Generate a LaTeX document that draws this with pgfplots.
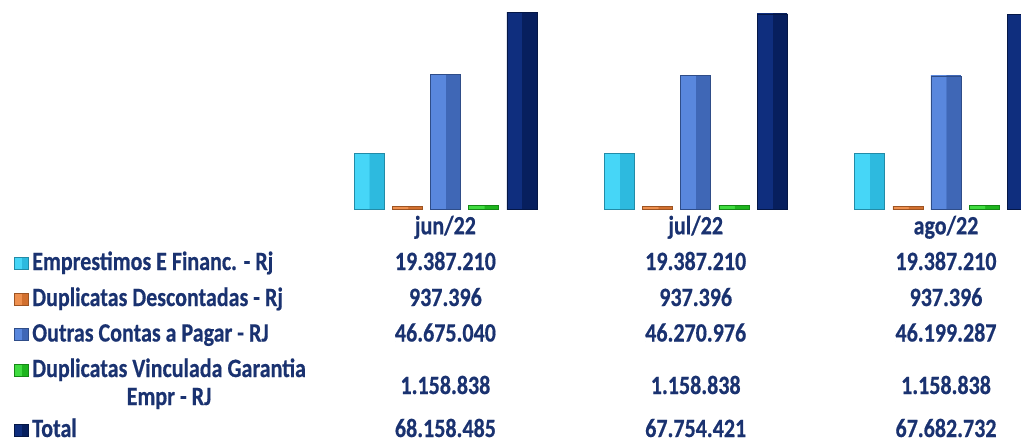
\documentclass[border=0pt]{standalone}
\usepackage{pgfplots}
\pgfplotsset{compat=1.18}
\usepackage{pgfplotstable}
\usepackage{graphicx}
\usepackage{fontspec}
\setmainfont{Carlito}[BoldFeatures={FakeBold=0.6}]

\definecolor{txt}{HTML}{1A3270}
\definecolor{cyanL}{HTML}{46D6F7}
\definecolor{cyanD}{HTML}{2DBADF}
\definecolor{orgL}{HTML}{EE904F}
\definecolor{orgD}{HTML}{D2702F}
\definecolor{bluL}{HTML}{5987DD}
\definecolor{bluD}{HTML}{3F67B6}
\definecolor{grnL}{HTML}{40DC40}
\definecolor{grnD}{HTML}{1EB51E}
\definecolor{navL}{HTML}{0F2E7E}
\definecolor{navD}{HTML}{071F5E}

% left half light, right half dark (bevel look)
\pgfdeclarehorizontalshading{cyanbev}{100bp}{color(0bp)=(cyanL); color(50bp)=(cyanL); color(50bp)=(cyanD); color(100bp)=(cyanD)}
\pgfdeclarehorizontalshading{orgbev}{100bp}{color(0bp)=(orgL); color(50bp)=(orgL); color(50bp)=(orgD); color(100bp)=(orgD)}
\pgfdeclarehorizontalshading{blubev}{100bp}{color(0bp)=(bluL); color(50bp)=(bluL); color(50bp)=(bluD); color(100bp)=(bluD)}
\pgfdeclarehorizontalshading{grnbev}{100bp}{color(0bp)=(grnL); color(50bp)=(grnL); color(50bp)=(grnD); color(100bp)=(grnD)}
\pgfdeclarehorizontalshading{navbev}{100bp}{color(0bp)=(navL); color(50bp)=(navL); color(50bp)=(navD); color(100bp)=(navD)}

\pgfplotstableread{
x emp dup out vin tot
0 19387210 937396 46675040 1158838 68158485
1 19387210 937396 46270976 1158838 67754421
2 19387210 937396 46199287 1158838 67682732
}\dados

\newcommand{\tx}[1]{\scalebox{1}[1.2]{#1}}

\begin{document}
\begin{tikzpicture}[x=0.75pt, y=0.75pt,
  cell/.style={inner sep=0pt, text=txt, font=\fontsize{16.5}{19}\selectfont\bfseries}]
\path[use as bounding box] (0,0) rectangle (1021,444);
\begin{axis}[
  at={(240.2pt,176.25pt)}, anchor=south west,
  scale only axis, width=525.6pt, height=156.75pt,
  xmin=-0.5, xmax=2.3, ymin=0, ymax=72.57e6,
  ybar, bar width=22.5pt,
  axis line style={draw=none}, major tick length=0pt,
  ytick=\empty, xtick={0,1,2},
  xticklabels={\tx{jun/22},\tx{jul/22},\tx{ago/22}},
  xticklabel style={anchor=base, inner sep=0pt, yshift=-19pt, text=txt,
    font=\fontsize{16.5}{19}\selectfont\bfseries},
]
% one bar per plot so that each bar gets its own bevel shading
\pgfplotsinvokeforeach{0,1,2}{
\addplot[shade, shading=cyanbev, draw=cyanD!75!black, line width=0.4pt, bar shift=-57.3pt, restrict x to domain=#1:#1] table[x=x, y=emp] {\dados};
\addplot[shade, shading=orgbev, draw=orgD!75!black, line width=0.4pt, bar shift=-28.65pt, restrict x to domain=#1:#1] table[x=x, y=dup] {\dados};
\addplot[shade, shading=blubev, draw=bluD!75!black, line width=0.4pt, bar shift=0pt, restrict x to domain=#1:#1] table[x=x, y=out] {\dados};
\addplot[shade, shading=grnbev, draw=grnD!75!black, line width=0.4pt, bar shift=28.65pt, restrict x to domain=#1:#1] table[x=x, y=vin] {\dados};
\addplot[shade, shading=navbev, draw=navD!75!black, line width=0.4pt, bar shift=57.3pt, restrict x to domain=#1:#1] table[x=x, y=tot] {\dados};
}
\end{axis}

% legend keys
\shade[shading=cyanbev, draw=cyanD!75!black, line width=0.3pt] (14,175) rectangle (28,187);
\shade[shading=orgbev, draw=orgD!75!black, line width=0.3pt] (14,139) rectangle (28,151);
\shade[shading=blubev, draw=bluD!75!black, line width=0.3pt] (14,103.5) rectangle (28,115.5);
\shade[shading=grnbev, draw=grnD!75!black, line width=0.3pt] (14,68) rectangle (28,80);
\shade[shading=navbev, draw=navD!75!black, line width=0.3pt] (14,7.5) rectangle (28,19.5);

% row labels
\node[cell, anchor=base west] at (32,174) {\tx{Emprestimos E Financ. - Rj}};
\node[cell, anchor=base west] at (32,138) {\tx{Duplicatas Descontadas - Rj}};
\node[cell, anchor=base west] at (32,102.5) {\tx{Outras Contas a Pagar - RJ}};
\node[cell, anchor=base west] (d4) at (32,67) {\tx{Duplicatas Vinculada Garantia}};
\coordinate (r4b) at (0,39);
\node[cell, anchor=base] at (d4.base |- r4b) {\tx{Empr - RJ}};
\node[cell, anchor=base west] at (32,7) {\tx{Total}};

% table values
\foreach \cx/\a/\b/\c/\d/\e in {
  445.4/19.387.210/937.396/46.675.040/1.158.838/68.158.485,
  695.7/19.387.210/937.396/46.270.976/1.158.838/67.754.421,
  946.0/19.387.210/937.396/46.199.287/1.158.838/67.682.732}{
  \node[cell, anchor=base] at (\cx,174) {\tx{\a}};
  \node[cell, anchor=base] at (\cx,138) {\tx{\b}};
  \node[cell, anchor=base] at (\cx,102.5) {\tx{\c}};
  \node[cell, anchor=base] at (\cx,50) {\tx{\d}};
  \node[cell, anchor=base] at (\cx,7) {\tx{\e}};
}
\end{tikzpicture}
\end{document}
